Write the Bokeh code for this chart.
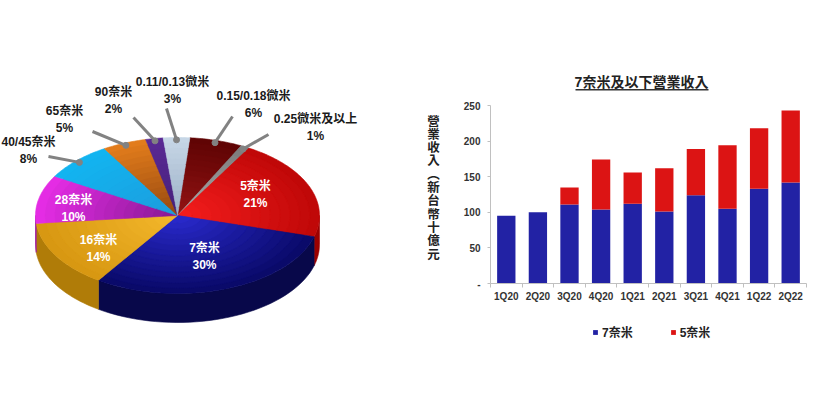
import numpy as np
from bokeh.plotting import figure
from bokeh.layouts import row
from bokeh.models import (Range1d, FixedTicker, Legend, LegendItem, Label,
                          BoxAnnotation, ColumnDataSource)
from bokeh.core.properties import value
from bokeh.embed import file_html
from bokeh.resources import INLINE

FONT = "Liberation Sans, Noto Sans CJK TC"

# ---------------- data ----------------
pie_labels = ["0.15/0.18微米", "0.25微米及以上", "5奈米", "7奈米", "16奈米",
              "28奈米", "40/45奈米", "65奈米", "90奈米", "0.11/0.13微米"]
pie_pct = [6, 1, 21, 30, 14, 10, 8, 5, 2, 3]

quarters = ["1Q20", "2Q20", "3Q20", "4Q20", "1Q21", "2Q21", "3Q21", "4Q21", "1Q22", "2Q22"]
rev_7nm = [95, 100, 111, 104, 112, 101, 124, 105, 133, 142]
rev_5nm = [0, 0, 24, 70, 44, 61, 65, 89, 85, 101]
series_names = ["7奈米", "5奈米"]
chart_title = "7奈米及以下營業收入"
y_title = "營業收入（新台幣十億元"
y_ticks = [0, 50, 100, 150, 200, 250]
y_max = 250

# ---------------- styles / layout ----------------
PIE_W, BAR_W, H = 412, 395, 385
F_LEFT, F_RIGHT, F_TOP, F_BOTTOM = 490, 806, 105, 283   # bar plot area (page px)

top_edge = ["#600404", "#7c7c7c", "#c00808", "#0a0a6a", "#d89812", "#e42ce4",
            "#12b4f0", "#e27c1c", "#5a2a94", "#c6d6e6"]
top_center = ["#901212", "#a8a8a8", "#f21c1c", "#2828c8", "#f2b62a", "#8c1a98",
              "#1c9ede", "#9a4c10", "#46207c", "#9eb2c8"]
wall_col = ["#4a0000", "#606060", "#9c0000", "#08084a", "#b07c08", "#9a0aa0",
            "#0c80b0", "#a05010", "#3a1a66", "#8096ac"]

inside_pos = {2: (255, 194), 3: (204, 256), 4: (98, 248), 5: (73, 208)}
outside_pos = {1: ((268, 134), (315, 127)),
               0: ((232, 116), (253, 104)),
               9: ((166, 108), (172, 90)),
               8: ((133, 117), (113, 100)),
               7: ((92, 131), (64, 119)),
               6: ((48, 156), (28, 150))}

cx, cy, rx, ry, depth, start = 177, 215, 142, 78, 29, 5.0


def hex2rgb(h):
    h = h.lstrip("#")
    return np.array([int(h[i:i + 2], 16) for i in (0, 2, 4)], dtype=float)


def mix(a, b, t):
    c = hex2rgb(a) * (1 - t) + hex2rgb(b) * t
    return "#%02x%02x%02x" % tuple(int(round(v)) for v in c)


def rim(theta, f=1.0):
    t = np.radians(theta)
    return cx + f * rx * np.sin(t), cy - f * ry * np.cos(t)


frac = np.array(pie_pct, dtype=float) / sum(pie_pct)
bounds = start + 360 * np.concatenate([[0], np.cumsum(frac)])

pie = figure(width=PIE_W, height=H, x_range=Range1d(0, PIE_W), y_range=Range1d(H, 0),
             x_axis_type=None, y_axis_type=None, output_backend="svg",
             toolbar_location=None, min_border=0, title=None)
pie.grid.visible = False
pie.outline_line_color = None

wx, wy, wc = [], [], []
for i in range(len(pie_pct)):
    lo, hi = max(bounds[i], 90), min(bounds[i + 1], 270)
    if lo < hi:
        th = np.linspace(lo, hi, 40)
        x, y = rim(th)
        wx.append(np.concatenate([x, x[::-1]]))
        wy.append(np.concatenate([y, (y + depth)[::-1]]))
        wc.append(wall_col[i])
pie.patches(wx, wy, fill_color=wc, line_color=wc, line_width=0.6)

tx, ty, tc = [], [], []
for f in np.linspace(1.0, 0.1, 14):
    t = (1 - f) / 0.9
    for i in range(len(pie_pct)):
        th = np.linspace(bounds[i], bounds[i + 1], max(4, int(pie_pct[i] * 4)))
        x, y = rim(th, f)
        tx.append(np.concatenate([[cx], x]))
        ty.append(np.concatenate([[cy], y]))
        tc.append(mix(top_edge[i], top_center[i], t))
pie.patches(tx, ty, fill_color=tc, line_color=tc, line_width=0.6)

mids = (bounds[:-1] + bounds[1:]) / 2
lx0, ly0, lx1, ly1, ox, oy, otext = [], [], [], [], [], [], []
for i, ((ex, ey), (tx_, ty_)) in outside_pos.items():
    sx, sy = rim(mids[i], 0.97)
    lx0.append(sx); ly0.append(sy); lx1.append(ex); ly1.append(ey)
    ox.append(tx_); oy.append(ty_)
    otext.append(f"{pie_labels[i]}\n{pie_pct[i]}%")
pie.segment(lx0, ly0, lx1, ly1, line_color="#828282", line_width=3)
pie.scatter(lx0, ly0, size=6, color="#828282")
pie.text(ox, oy, text=otext, text_font=value(FONT), text_font_size="12px",
         text_font_style="bold", text_color="#1a1a1a", text_align="center",
         text_baseline="middle", text_line_height=1.2)

ix, iy, itext = [], [], []
for i, (px, py) in inside_pos.items():
    ix.append(px); iy.append(py)
    itext.append(f"{pie_labels[i]}\n{pie_pct[i]}%")
pie.text(ix, iy, text=itext, text_font=value(FONT), text_font_size="12px",
         text_font_style="bold", text_color="white", text_align="center",
         text_baseline="middle", text_line_height=1.2)

# ---------------- bar chart ----------------
n = len(quarters)
ux = (F_RIGHT - F_LEFT) / n
uy = (F_BOTTOM - F_TOP) / y_max
x0 = -0.5 - (F_LEFT - PIE_W) / ux
x1 = -0.5 + (PIE_W + BAR_W - F_LEFT) / ux
y0 = -(H - F_BOTTOM) / uy
y1 = y_max + F_TOP / uy

bar = figure(width=BAR_W, height=H, x_range=Range1d(x0, x1), y_range=Range1d(y0, y1),
             output_backend="svg", toolbar_location=None, min_border=0, title=None)
bar.grid.visible = False
bar.outline_line_color = None

src = ColumnDataSource(dict(x=list(range(n)), n7=rev_7nm, n5=rev_5nm))
rs = bar.vbar_stack(["n7", "n5"], x="x", width=0.58, color=["#2222a4", "#dc1414"],
                    line_color=None, source=src)

xa = bar.xaxis[0]
xa.fixed_location = 0
xa.bounds = (-0.5, n - 0.5)
xa.ticker = FixedTicker(ticks=list(range(n)), minor_ticks=[i - 0.5 for i in range(n + 1)])
xa.major_label_overrides = {i: q for i, q in enumerate(quarters)}
xa.major_tick_out = 0
xa.major_tick_in = 0
xa.minor_tick_out = 4
xa.minor_tick_in = 0
xa.minor_tick_line_color = "#c0c0c0"
xa.axis_line_color = "#c0c0c0"
xa.major_label_standoff = 3

ya = bar.yaxis[0]
ya.fixed_location = -0.5
ya.bounds = (0, y_max)
ya.ticker = FixedTicker(ticks=y_ticks, minor_ticks=[])
ya.major_label_overrides = {0: "-"}
ya.major_tick_out = 3
ya.major_tick_in = 0
ya.major_tick_line_color = "#c0c0c0"
ya.axis_line_color = "#c0c0c0"
ya.major_label_standoff = 7

for ax in (xa, ya):
    ax.major_label_text_font = FONT
    ax.major_label_text_font_size = "10px"
    ax.major_label_text_font_style = "bold"
    ax.major_label_text_color = "#333333"

legend = Legend(items=[LegendItem(label=series_names[0], renderers=[rs[0]]),
                       LegendItem(label=series_names[1], renderers=[rs[1]])],
                orientation="horizontal", location=(592 - PIE_W, H - 340),
                glyph_width=6, glyph_height=6, label_standoff=4, spacing=37,
                label_height=12, label_text_font=FONT, label_text_font_size="12px",
                label_text_font_style="bold", label_text_color="#222222",
                border_line_color=None, background_fill_alpha=0,
                margin=0, padding=0)
bar.add_layout(legend)

bar.add_layout(Label(x=641 - PIE_W, y=H - 81, x_units="screen", y_units="screen",
                     text=chart_title, text_font=FONT, text_font_size="14px",
                     text_font_style="bold", text_color="#222222",
                     text_align="center", text_baseline="middle"))
bar.add_layout(BoxAnnotation(left=575 - PIE_W, right=708 - PIE_W,
                             bottom=H - 90, top=H - 88.6,
                             left_units="screen", right_units="screen",
                             bottom_units="screen", top_units="screen",
                             fill_color="#333333", fill_alpha=1, line_color=None))

vert = "\n".join("︵" if ch == "（" else ch for ch in y_title)
bar.add_layout(Label(x=433 - PIE_W, y=H - 114, x_units="screen", y_units="screen",
                     text=vert, text_font=FONT, text_font_size="12.5px",
                     text_font_style="bold", text_color="#222222",
                     text_align="center", text_baseline="top",
                     text_line_height=0.95))

layout = row(pie, bar, spacing=0)
open("out.html", "w").write(file_html(layout, INLINE))
